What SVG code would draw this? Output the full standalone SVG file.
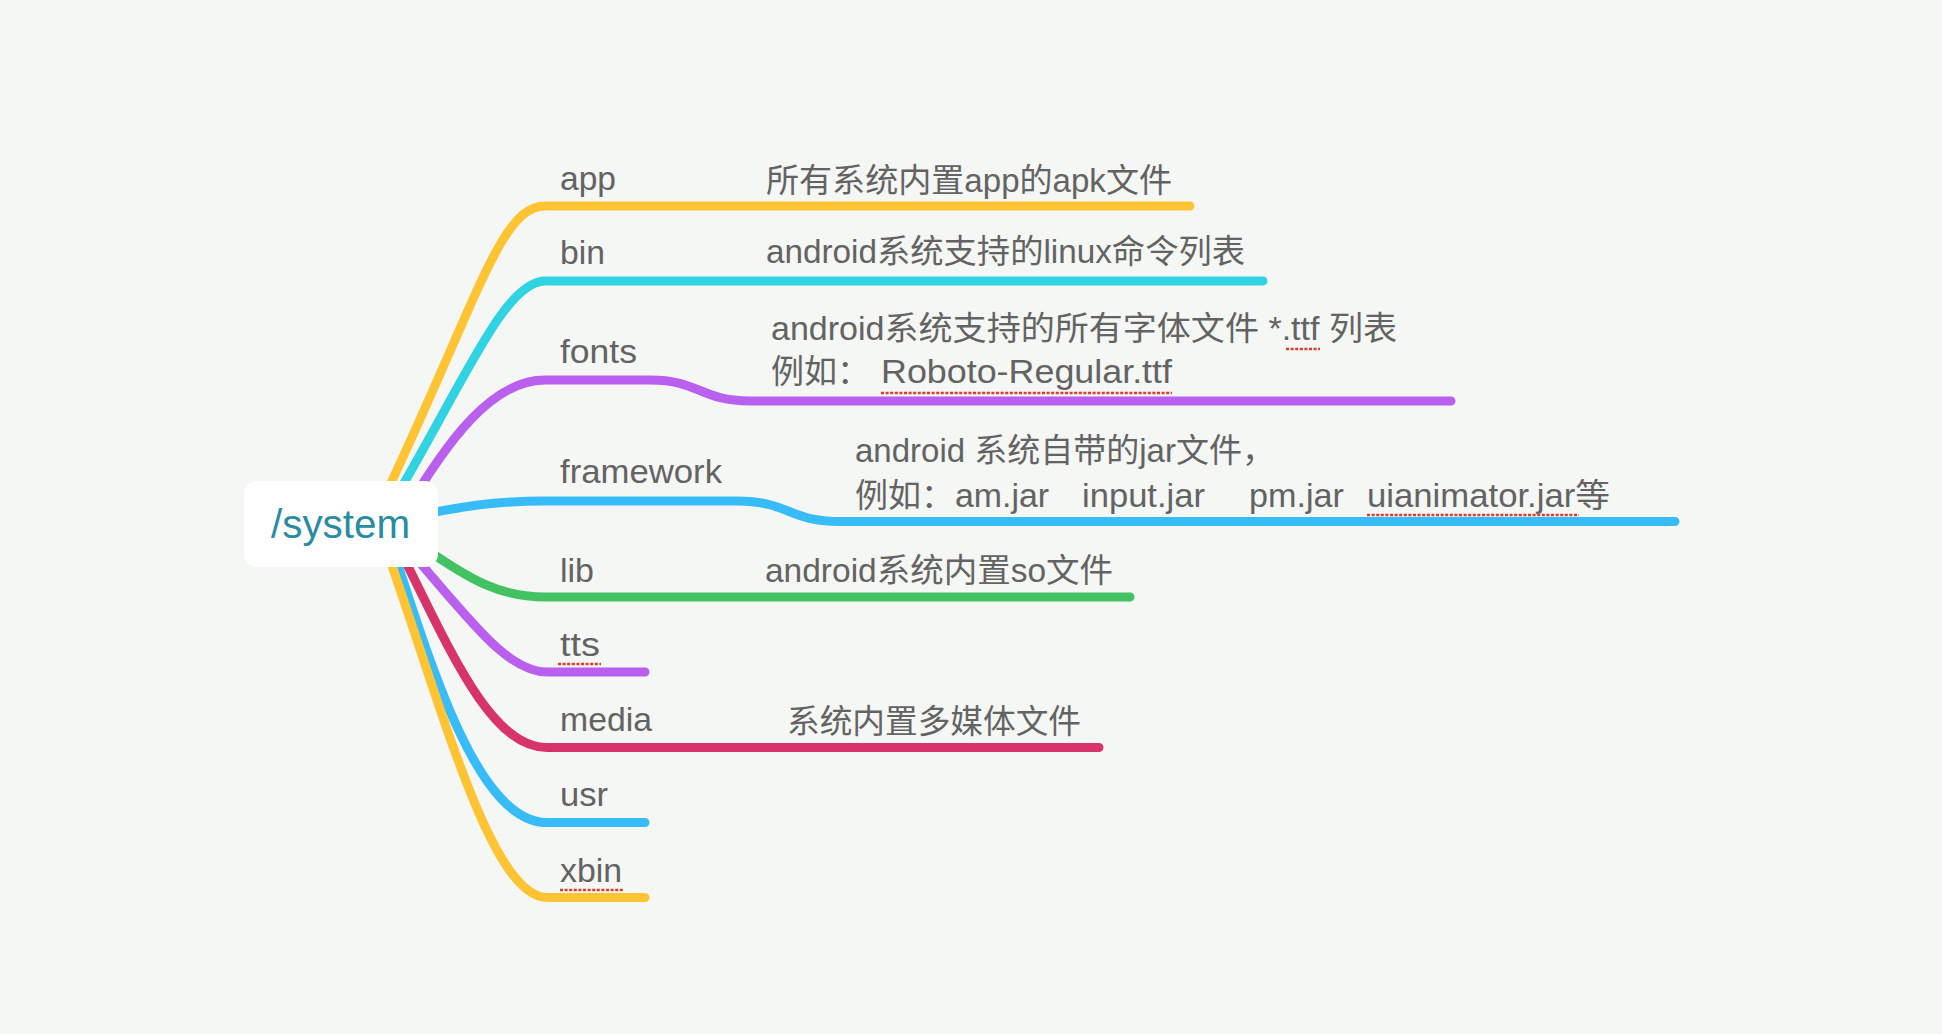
<svg xmlns="http://www.w3.org/2000/svg" width="1942" height="1034" viewBox="0 0 1942 1034">
<style>
.bg{fill:#F5F7F4}
.ln{fill:none;stroke-width:9;stroke-linecap:round;stroke-linejoin:round}
.y{stroke:#FFC433}.c{stroke:#30D3E2}.p{stroke:#BA60EF}.b{stroke:#38BCF7}.g{stroke:#43C263}.m{stroke:#D8346C}
.t{font-family:"Liberation Sans","Noto Sans CJK SC",sans-serif;font-size:33px;fill:#636363}
.root{font-family:"Liberation Sans","Noto Sans CJK SC",sans-serif;font-size:40px;fill:#2A8CA2}
.sp{fill:none;stroke:#E5392F;stroke-width:2.5;stroke-dasharray:3 1.6}
</style>
<rect class="bg" x="0" y="0" width="1942" height="1034"/>
<g id="connectors">
  <path class="ln y" d="M382 502 C478 300 500 206 545 206 L1190 206"/>
  <path class="ln c" d="M393 502 C465 380 505 281 545 281 L1263 281"/>
  <path class="ln p" d="M412 500 C447 445 490 380 545 380 L650 380 C700 380 700 401 750 401 L1451 401"/>
  <path class="ln b" d="M420 515 C470 505 500 501 545 501 L737 501 C788 501 789 521.5 840 521.5 L1675 521.5"/>
  <path class="ln g" d="M420 545 C470 580 500 597 545 597 L1130 597"/>
  <path class="ln p" d="M400 540 C467 615 505 672 547 672 L645 672"/>
  <path class="ln m" d="M395 540 C450 650 490 747.5 547 747.5 L1099 747.5"/>
  <path class="ln b" d="M390 540 C435 680 480 822.5 547 822.5 L645 822.5"/>
  <path class="ln y" d="M383 540 C440 700 490 897.5 547 897.5 L645 897.5"/>
</g>
<g id="root">
  <rect x="244" y="481" width="194" height="86" rx="13" fill="#FFFFFF"/>
  <text class="root" x="271" y="538" textLength="139" lengthAdjust="spacingAndGlyphs">/system</text>
</g>
<g id="app">
  <text class="t" x="560" y="190" textLength="56" lengthAdjust="spacingAndGlyphs">app</text>
  <text class="t" x="766" y="192" textLength="406" lengthAdjust="spacingAndGlyphs">所有系统内置app的apk文件</text>
</g>
<g id="bin">
  <text class="t" x="560" y="264" textLength="45" lengthAdjust="spacingAndGlyphs">bin</text>
  <text class="t" x="766" y="263" textLength="479" lengthAdjust="spacingAndGlyphs">android系统支持的linux命令列表</text>
</g>
<g id="fonts">
  <text class="t" x="560" y="363" textLength="77" lengthAdjust="spacingAndGlyphs">fonts</text>
  <text class="t" x="771" y="340" textLength="626" lengthAdjust="spacingAndGlyphs">android系统支持的所有字体文件 *.ttf 列表</text>
  <text class="t" x="771" y="383">例如：</text>
  <text class="t" x="881" y="383" textLength="291" lengthAdjust="spacingAndGlyphs">Roboto-Regular.ttf</text>
  <line class="sp" x1="1286" y1="349" x2="1320" y2="349"/>
  <line class="sp" x1="881" y1="393" x2="1172" y2="393"/>
</g>
<g id="framework">
  <text class="t" x="560" y="483" textLength="162" lengthAdjust="spacingAndGlyphs">framework</text>
  <text class="t" x="855" y="462">android 系统自带的jar文件，</text>
  <text class="t" x="855" y="507">例如：</text>
  <text class="t" x="955" y="507" textLength="94" lengthAdjust="spacingAndGlyphs">am.jar</text>
  <text class="t" x="1082" y="507" textLength="123" lengthAdjust="spacingAndGlyphs">input.jar</text>
  <text class="t" x="1249" y="507" textLength="95" lengthAdjust="spacingAndGlyphs">pm.jar</text>
  <text class="t" x="1367" y="507" textLength="243" lengthAdjust="spacingAndGlyphs">uianimator.jar等</text>
  <line class="sp" x1="1367" y1="515" x2="1579" y2="515"/>
</g>
<g id="lib">
  <text class="t" x="560" y="582" textLength="34" lengthAdjust="spacingAndGlyphs">lib</text>
  <text class="t" x="765" y="582" textLength="348" lengthAdjust="spacingAndGlyphs">android系统内置so文件</text>
</g>
<g id="tts">
  <text class="t" x="560" y="656" textLength="40" lengthAdjust="spacingAndGlyphs">tts</text>
  <line class="sp" x1="558" y1="664" x2="601" y2="664"/>
</g>
<g id="media">
  <text class="t" x="560" y="731" textLength="92" lengthAdjust="spacingAndGlyphs">media</text>
  <text class="t" x="787" y="733" textLength="294" lengthAdjust="spacingAndGlyphs">系统内置多媒体文件</text>
</g>
<g id="usr">
  <text class="t" x="560" y="806" textLength="48" lengthAdjust="spacingAndGlyphs">usr</text>
</g>
<g id="xbin">
  <text class="t" x="560" y="882" textLength="62" lengthAdjust="spacingAndGlyphs">xbin</text>
  <line class="sp" x1="560" y1="890" x2="624" y2="890"/>
</g>
</svg>
